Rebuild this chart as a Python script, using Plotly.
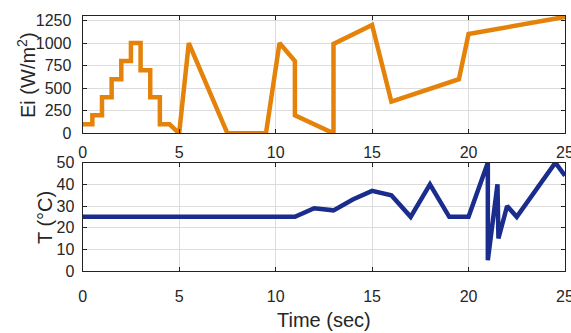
import plotly.graph_objects as go

# Irradiance profile (W/m^2) over time (sec)
t_ei = [0, 0.5, 0.5, 1, 1, 1.5, 1.5, 2, 2, 2.5, 2.5, 3, 3, 3.5, 3.5, 4, 4, 4.5,
        5, 5.5, 7.5, 9.5, 10.2, 11, 11, 13, 13, 15, 16, 19.5, 20, 25]
ei = [100, 100, 200, 200, 400, 400, 600, 600, 800, 800, 1000, 1000, 700, 700, 400, 400, 100, 100,
      0, 1000, 0, 0, 1000, 800, 200, 0, 990, 1200, 350, 600, 1100, 1290]

# Temperature profile (deg C) over time (sec)
t_temp = [0, 11, 12, 13, 14, 15, 16, 17, 18, 19, 20, 21, 21, 21.5, 21.55, 22, 22.5, 24.5, 25]
temp = [25, 25, 29, 28, 33, 37, 35, 25, 40, 25, 25, 50, 5, 40, 15, 30, 25, 50, 44]

x_ticks = [0, 5, 10, 15, 20, 25]
ei_ticks = [0, 250, 500, 750, 1000, 1250]
temp_ticks = [0, 10, 20, 30, 40, 50]

W, H = 571, 333
FONT = "Liberation Sans, Arial, sans-serif"
TXT = "#262626"
GRID = "#dcdcdc"

fig = go.Figure()
fig.add_trace(go.Scatter(x=t_ei, y=ei, mode="lines", xaxis="x", yaxis="y",
                         line=dict(color="#E5820A", width=4.5), showlegend=False))
fig.add_trace(go.Scatter(x=t_temp, y=temp, mode="lines", xaxis="x2", yaxis="y2",
                         line=dict(color="#1A2D8C", width=4.5), showlegend=False))

xdom = [82.7 / W, 565 / W]
xrange_ = [-0.0001, 25.0001]
axis_common = dict(showline=True, linecolor="#222", linewidth=1.2, mirror="ticks",
                   ticks="inside", ticklen=4, tickcolor="#222", showgrid=True,
                   gridcolor=GRID, gridwidth=1, zeroline=False, automargin=False,
                   tickfont=dict(family=FONT, size=16, color=TXT))
x_common = dict(domain=xdom, range=xrange_, tickvals=x_ticks,
                ticktext=[str(v) for v in x_ticks], ticklabeloverflow="allow")

fig.update_layout(
    width=W, height=H,
    margin=dict(l=0, r=0, t=0, b=0),
    paper_bgcolor="white", plot_bgcolor="white",
    xaxis=dict(anchor="y", ticklabelstandoff=4, **x_common, **axis_common),
    yaxis=dict(domain=[(H - 133.3) / H, (H - 16) / H], anchor="x", range=[0, 1300],
               tickvals=ei_ticks, ticklabelstandoff=7, **axis_common),
    xaxis2=dict(anchor="y2", ticklabelstandoff=11,
                title=dict(text="Time (sec)", standoff=8,
                           font=dict(family=FONT, size=20, color=TXT)),
                **x_common, **axis_common),
    yaxis2=dict(domain=[(H - 271) / H, (H - 162.7) / H], anchor="x2", range=[0, 50],
                tickvals=temp_ticks, ticklabelstandoff=4, **axis_common),
)

# Rotated y-axis titles
for text, xc, yc in [("Ei (W/m<sup>2</sup>)", 26, 75), ("T (°C)", 45, 217)]:
    fig.add_annotation(text=text, textangle=-90, showarrow=False,
                       xref="paper", yref="paper", x=xc / W, y=1 - yc / H,
                       xanchor="center", yanchor="middle",
                       font=dict(family=FONT, size=20, color=TXT))

fig.write_html("out.html")
